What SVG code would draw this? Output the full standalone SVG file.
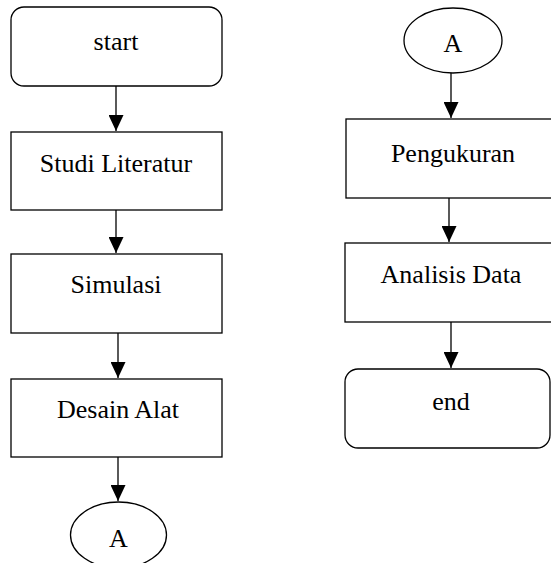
<svg xmlns="http://www.w3.org/2000/svg" width="551" height="563" viewBox="0 0 551 563">
<style>
.box{fill:#fff;stroke:#000;stroke-width:1.3}
.lbl{font-family:'Liberation Serif','Times New Roman',serif;font-size:26px;fill:#000;text-anchor:middle}
.con{stroke:#000;stroke-width:1.3;fill:none}
</style>
<defs>
<marker id="ah" viewBox="0 0 16 15" refX="16" refY="7.5" markerWidth="16" markerHeight="15" markerUnits="userSpaceOnUse" orient="auto">
<path d="M0,0 L16,7.5 L0,15 Z" fill="#000"/>
</marker>
</defs>
<rect width="551" height="563" fill="#fff"/>
<g id="connectors">
<line class="con" x1="116" y1="86" x2="116" y2="131" marker-end="url(#ah)"/>
<line class="con" x1="116" y1="210" x2="116" y2="253" marker-end="url(#ah)"/>
<line class="con" x1="118" y1="333" x2="118" y2="378" marker-end="url(#ah)"/>
<line class="con" x1="118" y1="457" x2="118" y2="501" marker-end="url(#ah)"/>
<line class="con" x1="451" y1="73" x2="451" y2="118" marker-end="url(#ah)"/>
<line class="con" x1="449" y1="198" x2="449" y2="242" marker-end="url(#ah)"/>
<line class="con" x1="451" y1="322" x2="451" y2="368" marker-end="url(#ah)"/>
</g>
<g id="start">
<rect class="box" x="11" y="7" width="211" height="79" rx="13"/>
<text class="lbl" x="116" y="50">start</text>
</g>
<g id="studi">
<rect class="box" x="11" y="132" width="211" height="78"/>
<text class="lbl" x="116" y="172">Studi Literatur</text>
</g>
<g id="simulasi">
<rect class="box" x="11" y="254" width="211" height="79"/>
<text class="lbl" x="116" y="293">Simulasi</text>
</g>
<g id="desain">
<rect class="box" x="11" y="379" width="211" height="78"/>
<text class="lbl" x="118" y="418">Desain Alat</text>
</g>
<g id="connA1">
<ellipse class="box" cx="118.5" cy="535" rx="48" ry="33"/>
<text class="lbl" x="118.5" y="547">A</text>
</g>
<g id="connA2">
<ellipse class="box" cx="453" cy="40.5" rx="49" ry="32.5"/>
<text class="lbl" x="453" y="52">A</text>
</g>
<g id="pengukuran">
<rect class="box" x="346" y="119" width="210" height="79"/>
<text class="lbl" x="453" y="162">Pengukuran</text>
</g>
<g id="analisis">
<rect class="box" x="345" y="243" width="210" height="79"/>
<text class="lbl" x="451" y="283">Analisis Data</text>
</g>
<g id="end">
<rect class="box" x="345" y="369" width="205" height="79" rx="13"/>
<text class="lbl" x="451" y="410">end</text>
</g>
</svg>
